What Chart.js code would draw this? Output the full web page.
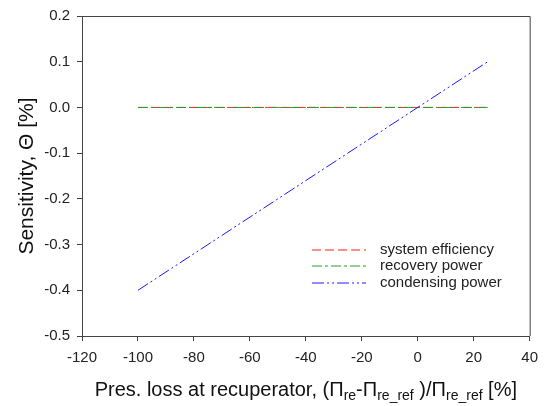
<!DOCTYPE html>
<html>
<head>
<meta charset="utf-8">
<script src="https://cdn.jsdelivr.net/npm/chart.js@4/dist/chart.umd.min.js"></script>
<style>
  html, body { margin: 0; padding: 0; background: #fff; }
  #wrap { width: 546px; height: 406px; }
</style>
</head>
<body>
<div id="wrap"><canvas id="chart" width="546" height="406"></canvas></div>
<script>
const xValues = [-100, -75, -50, -25, 0, 25];
const efficiency = [0, 0, 0, 0, 0, 0];
const recovery = [0, 0, 0, 0, 0, 0];
const condensing = [-0.4, -0.3, -0.2, -0.1, 0, 0.1];
const seriesNames = ['system efficiency', 'recovery power', 'condensing power'];
const xTicks = [-120, -100, -80, -60, -40, -20, 0, 20, 40];
const yTicks = [-0.5, -0.4, -0.3, -0.2, -0.1, 0.0, 0.1, 0.2];

const FONT = '"Liberation Sans", Arial, sans-serif';
const AXIS = '#444';

function pts(ys) {
    return xValues.map((x, i) => ({ x: x, y: ys[i] }));
}

// frame on top/right, plus the legend inside the plot
const framePlugin = {
    id: 'frame',
    afterDatasetsDraw(chart) {
        const c = chart.ctx;
        const a = chart.chartArea;
        c.save();
        c.strokeStyle = AXIS;
        c.lineWidth = 1;
        c.beginPath();
        c.moveTo(a.left, a.top + 0.5);
        c.lineTo(a.right + 0.5, a.top + 0.5);
        c.lineTo(a.right + 0.5, a.bottom);
        c.stroke();

        // legend
        const rows = [250, 266, 283];
        c.font = '15px ' + FONT;
        c.textBaseline = 'middle';
        chart.data.datasets.forEach((ds, i) => {
            const ly = rows[i];
            c.save();
            c.strokeStyle = ds.borderColor;
            c.lineWidth = 1;
            c.setLineDash(ds.borderDash);
            c.beginPath();
            c.moveTo(312, ly);
            c.lineTo(366, ly);
            c.stroke();
            c.restore();
            c.fillStyle = '#222';
            c.fillText(ds.label, 380, ly);
        });
        c.restore();
    },
    afterDraw(chart) {
        const c = chart.ctx;
        const a = chart.chartArea;
        c.save();
        c.fillStyle = '#111';
        // x title with subscripts
        const parts = [
            ['Pres. loss at recuperator, (\u03A0', 0],
            ['re', 1],
            ['-\u03A0', 0],
            ['re_ref', 1],
            [' )/\u03A0', 0],
            ['re_ref', 1],
            [' [%]', 0]
        ];
        const big = '20px ' + FONT, small = '14px ' + FONT;
        let w = 0;
        parts.forEach(p => { c.font = p[1] ? small : big; w += c.measureText(p[0]).width; });
        let x = (a.left + a.right) / 2 - w / 2;
        const base = 396;
        c.textBaseline = 'alphabetic';
        parts.forEach(p => {
            c.font = p[1] ? small : big;
            c.fillText(p[0], x, base + (p[1] ? 4 : 0));
            x += c.measureText(p[0]).width;
        });
        // y title
        c.translate(33, 176);
        c.rotate(-Math.PI / 2);
        c.font = '21px ' + FONT;
        c.textAlign = 'center';
        c.fillText('Sensitivity, \u0398 [%]', 0, 0);
        c.restore();
    }
};

new Chart(document.getElementById('chart'), {
    type: 'scatter',
    data: {
        datasets: [
            { label: seriesNames[0], data: pts(efficiency), borderColor: '#ff2020', borderDash: [9, 4], order: 2 },
            { label: seriesNames[1], data: pts(recovery), borderColor: '#2e9a2e', borderDash: [10, 3, 3, 3], order: 1 },
            { label: seriesNames[2], data: pts(condensing), borderColor: '#1a1aff', borderDash: [12, 3, 2, 3, 2, 3], order: 0 }
        ].map(d => Object.assign(d, { showLine: true, pointRadius: 0, borderWidth: 1, fill: false }))
    },
    options: {
        responsive: false,
        animation: false,
        layout: { padding: { left: 0, right: 16, top: 12, bottom: 0 } },
        plugins: { legend: { display: false }, tooltip: { enabled: false } },
        scales: {
            x: {
                type: 'linear', min: -120, max: 40,
                afterBuildTicks: s => { s.ticks = xTicks.map(v => ({ value: v })); },
                afterFit: s => { s.height = 70; },
                ticks: { color: '#222', font: { size: 15, family: FONT }, padding: 8, maxRotation: 0 },
                grid: { drawOnChartArea: false, tickLength: 5, color: AXIS },
                border: { color: AXIS }
            },
            y: {
                type: 'linear', min: -0.5, max: 0.2,
                afterBuildTicks: s => { s.ticks = yTicks.map(v => ({ value: v })); },
                afterFit: s => { s.width = 82; },
                ticks: { color: '#222', font: { size: 15, family: FONT }, padding: 7, callback: v => v.toFixed(1) },
                grid: { drawOnChartArea: false, tickLength: 5, color: AXIS },
                border: { color: AXIS }
            }
        }
    },
    plugins: [framePlugin]
});
</script>
</body>
</html>
